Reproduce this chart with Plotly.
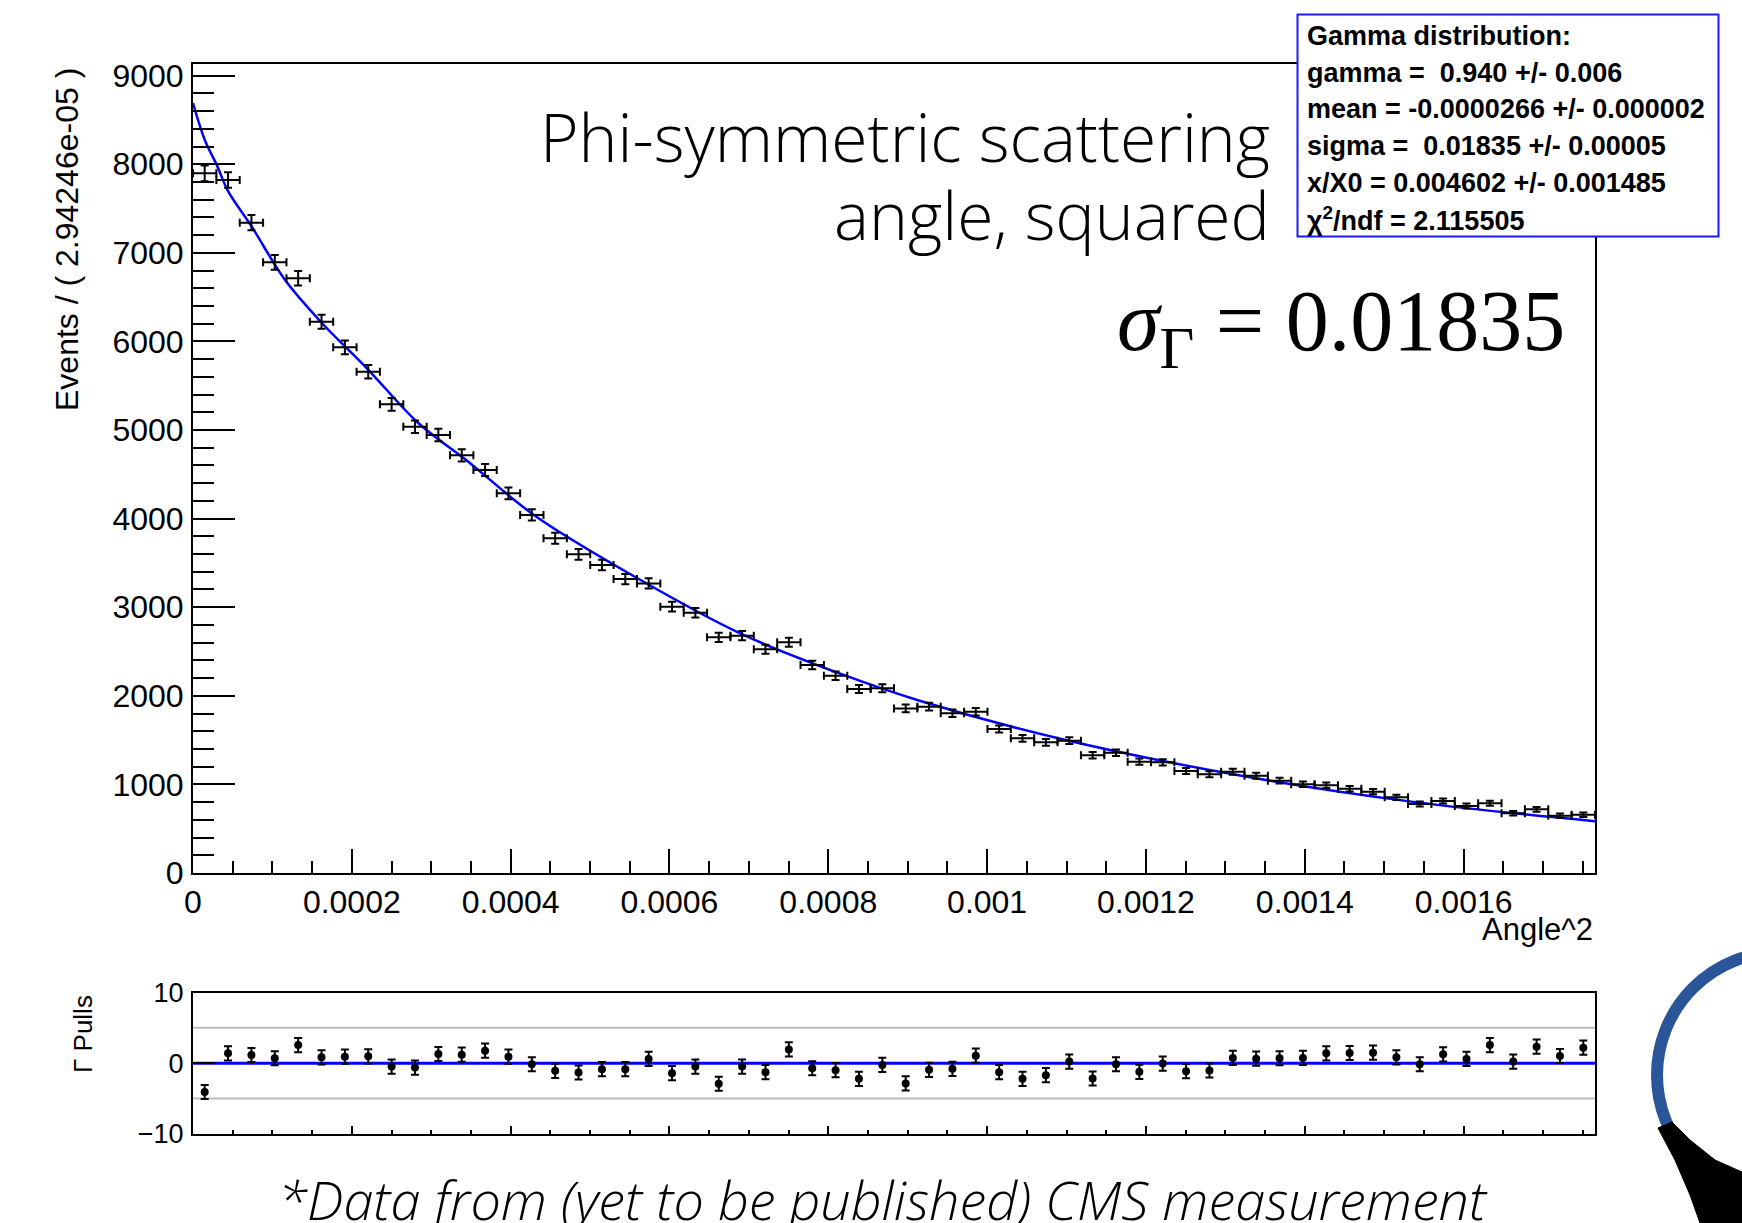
import plotly.graph_objects as go

W, H = 1742, 1223

# ---------------- data ----------------
bin_width = 2.94246e-05
n_bins = 60
counts = [7897, 7822, 7340, 6893, 6712, 6222, 5933, 5658, 5290, 5037,
          4944, 4714, 4549, 4285, 4041, 3778, 3597, 3476, 3318, 3269,
          3006, 2938, 2660, 2679, 2525, 2604, 2348, 2227, 2077, 2085,
          1858, 1877, 1802, 1821, 1625, 1520, 1475, 1494, 1328, 1358,
          1256, 1249, 1151, 1114, 1143, 1098, 1042, 1001, 990, 952,
          918, 854, 779, 813, 756, 787, 674, 719, 647, 658]
count_err = [88.9, 88.4, 85.7, 83.0, 81.9, 78.9, 77.0, 75.2, 72.7, 71.0,
             70.3, 68.7, 67.4, 65.5, 63.6, 61.5, 60.0, 59.0, 57.6, 57.2,
             54.8, 54.2, 51.6, 51.8, 50.2, 51.0, 48.5, 47.2, 45.6, 45.7,
             43.1, 43.3, 42.4, 42.7, 40.3, 39.0, 38.4, 38.7, 36.4, 36.9,
             35.4, 35.3, 33.9, 33.4, 33.8, 33.1, 32.3, 31.6, 31.5, 30.9,
             30.3, 29.2, 27.9, 28.5, 27.5, 28.1, 26.0, 26.8, 25.4, 25.7]
pulls = [-4.07, 1.40, 1.17, 0.70, 2.57, 0.84, 0.93, 0.98, -0.47, -0.61,
         1.31, 1.21, 1.78, 0.93, -0.14, -1.07, -1.31, -0.84, -0.84, 0.61,
         -1.40, -0.47, -2.90, -0.47, -1.26, 1.96, -0.70, -0.98, -2.20, -0.23,
         -2.85, -0.93, -0.79, 1.07, -1.26, -2.20, -1.68, 0.23, -2.15, -0.14,
         -1.21, -0.05, -1.12, -1.03, 0.75, 0.65, 0.70, 0.75, 1.40, 1.45,
         1.50, 0.84, -0.14, 1.26, 0.61, 2.57, 0.23, 2.34, 1.03, 2.20]
fit_x = [0, 1.5e-5, 3.0e-5, 4.4e-5, 7.4e-5, 1.16e-4, 1.62e-4, 2.21e-4, 2.84e-4,
         3.47e-4, 4.31e-4, 5.63e-4, 6.89e-4, 8.15e-4, 9.15e-4, 1.092e-3,
         1.3185e-3, 1.539e-3, 1.7655e-3]
fit_y = [8690, 8270, 7990, 7700, 7295, 6693, 6211, 5677, 5076,
         4640, 4030, 3310, 2705, 2250, 1945, 1515,
         1100, 800, 585]
pull_line_x = [0, 1.7655e-3]
pull_line_y = [0, 0]
pull_band_hi = [5, 5]
pull_band_lo = [-5, -5]

x_tickvals = [0, 0.0002, 0.0004, 0.0006, 0.0008, 0.001, 0.0012, 0.0014, 0.0016]
x_ticktext = ["0", "0.0002", "0.0004", "0.0006", "0.0008", "0.001", "0.0012", "0.0014", "0.0016"]
pull_tickvals = [-10, 0, 10]
pull_ticktext = ["\u221210", "0", "10"]

stats_lines = [
    "Gamma distribution:",
    "gamma =\u00a0\u00a00.940 +/- 0.006",
    "mean = -0.0000266 +/- 0.000002",
    "sigma =\u00a0\u00a00.01835 +/- 0.00005",
    "x/X0 = 0.004602 +/- 0.001485",
    "\u03c7<sup>2</sup>/ndf = 2.115505",
]
title_lines = ["Phi-symmetric scattering", "angle, squared"]
sigma_text = "<i>\u03c3</i><sub>\u0393</sub> = 0.01835"
footnote = "<i>*Data from (yet to be published) CMS measurement</i>"

# ---------------- helpers ----------------
def px(x):
    return x / W

def py(y):
    return 1 - y / H

x_range = [0, n_bins * bin_width]
centers = [(i + 0.5) * bin_width for i in range(n_bins)]

SANS = "Liberation Sans, Arial, Helvetica, sans-serif"
LIGHT = "Open Sans, Lato, sans-serif"
SERIF = "Liberation Serif, Times New Roman, serif"

fig = go.Figure()

# fit curve (main)
fig.add_trace(go.Scatter(x=fit_x, y=fit_y, mode="lines",
                         line=dict(color="#0000ff", width=2.5, shape="spline"),
                         xaxis="x", yaxis="y", hoverinfo="skip", showlegend=False))
# data points
fig.add_trace(go.Scatter(
    x=centers, y=counts, mode="markers",
    marker=dict(size=1, color="black"),
    error_x=dict(type="constant", value=bin_width / 2, color="black", thickness=2, width=4),
    error_y=dict(type="data", array=count_err, color="black", thickness=2, width=4),
    xaxis="x", yaxis="y", showlegend=False))

# pull plot reference lines
for yy in (pull_band_hi, pull_band_lo):
    fig.add_trace(go.Scatter(x=pull_line_x, y=yy, mode="lines",
                             line=dict(color="#bdbdbd", width=2),
                             xaxis="x2", yaxis="y2", hoverinfo="skip", showlegend=False))
fig.add_trace(go.Scatter(x=pull_line_x, y=pull_line_y, mode="lines",
                         line=dict(color="#0000ff", width=3),
                         xaxis="x2", yaxis="y2", hoverinfo="skip", showlegend=False))
fig.add_trace(go.Scatter(
    x=centers, y=pulls, mode="markers",
    marker=dict(size=8, color="black"),
    error_y=dict(type="constant", value=1, color="black", thickness=2, width=4),
    xaxis="x2", yaxis="y2", showlegend=False))

xdom = [px(193), px(1595)]
axis_common = dict(showline=True, linewidth=2, linecolor="black", mirror=True,
                   showgrid=False, zeroline=False, ticks="inside", tickwidth=2,
                   tickcolor="black", automargin=False)

fig.update_layout(
    template="none",
    width=W, height=H, margin=dict(l=0, r=0, t=0, b=0, pad=0, autoexpand=False),
    paper_bgcolor="white", plot_bgcolor="white",
    font=dict(family=SANS, color="black"),
    xaxis=dict(domain=xdom, range=x_range, anchor="y",
               tickmode="array", tickvals=x_tickvals, ticktext=x_ticktext,
               ticklen=24, tickfont=dict(size=32, family=SANS),
               minor=dict(ticks="inside", ticklen=12, tickwidth=2, tickcolor="black",
                          tickmode="linear", tick0=0, dtick=0.00005, showgrid=False),
               **axis_common),
    yaxis=dict(domain=[py(873), py(63.5)], range=[0, 9137], anchor="x",
               tickmode="linear", tick0=0, dtick=1000, ticklen=42,
               ticklabelstandoff=1,
               tickfont=dict(size=32, family=SANS),
               minor=dict(ticks="inside", ticklen=21, tickwidth=2, tickcolor="black",
                          tickmode="linear", tick0=0, dtick=200, showgrid=False),
               **axis_common),
    xaxis2=dict(domain=xdom, range=x_range, anchor="y2", showticklabels=False,
                tickmode="linear", tick0=0, dtick=0.0002, ticklen=8,
                minor=dict(ticks="inside", ticklen=4, tickwidth=2, tickcolor="black",
                           tickmode="linear", tick0=0, dtick=0.00005, showgrid=False),
                **axis_common),
    yaxis2=dict(domain=[py(1134), py(992.5)], range=[-10, 10], anchor="x2",
                tickmode="array", tickvals=pull_tickvals, ticktext=pull_ticktext,
                ticklen=23, ticklabelstandoff=2, tickfont=dict(size=27, family=SANS),
                **axis_common),
)

P = dict(xref="paper", yref="paper", showarrow=False)
ann = []
# axis titles
ann.append(dict(text="Events / ( 2.94246e-05 )", x=px(67), y=py(240), textangle=-90,
                xanchor="center", yanchor="middle",
                font=dict(size=32, family=SANS), **P))
ann.append(dict(text="Angle^2", x=px(1595), y=py(929), xanchor="right", yanchor="middle",
                font=dict(size=31, family=SANS), **P))
ann.append(dict(text="\u0393 Pulls", x=px(83), y=py(1034), textangle=-90,
                xanchor="center", yanchor="middle",
                font=dict(size=26, family=SANS), **P))
# big title
for k, t in enumerate(title_lines):
    ann.append(dict(text=t, x=px(1272), y=py(136 + 78 * k), xanchor="right", yanchor="middle",
                    font=dict(size=66, family=LIGHT, weight=300), **P))
ann.append(dict(text=sigma_text, x=px(1567), y=py(327), xanchor="right", yanchor="middle",
                font=dict(size=86, family=SERIF), **P))
# stats box text
for k, t in enumerate(stats_lines):
    ann.append(dict(text="<b>" + t + "</b>", x=px(1305), y=py(36.0 + 36.66 * k),
                    xanchor="left", yanchor="middle",
                    font=dict(size=27, family=SANS), **P))
ann.append(dict(text=footnote, x=px(883), y=py(1199), xanchor="center", yanchor="middle",
                font=dict(size=54, family=LIGHT, weight=300), **P))
fig.update_layout(annotations=ann)

shapes = []
shapes.append(dict(type="rect", xref="paper", yref="paper",
                   x0=px(1297.5), x1=px(1718.5), y0=py(236.5), y1=py(14.5),
                   line=dict(color="#1a1aff", width=2), fillcolor="white", layer="above"))
# decorative ring and dark shape at bottom right (slide artwork)
shapes.append(dict(type="circle", xref="paper", yref="paper",
                   x0=px(1657), x1=px(1903), y0=py(1198), y1=py(952),
                   line=dict(color="#2a5599", width=12), layer="above"))
blob = [(1658, 1128), (1672, 1122), (1690, 1140), (1715, 1160), (1742, 1172),
        (1742, 1223), (1700, 1223), (1690, 1195), (1675, 1160)]
path = "M " + " L ".join(f"{px(a)},{py(b)}" for a, b in blob) + " Z"
shapes.append(dict(type="path", xref="paper", yref="paper", path=path,
                   fillcolor="black", line=dict(color="black", width=1), layer="above"))
fig.update_layout(shapes=shapes)

fig.write_html("out.html")
